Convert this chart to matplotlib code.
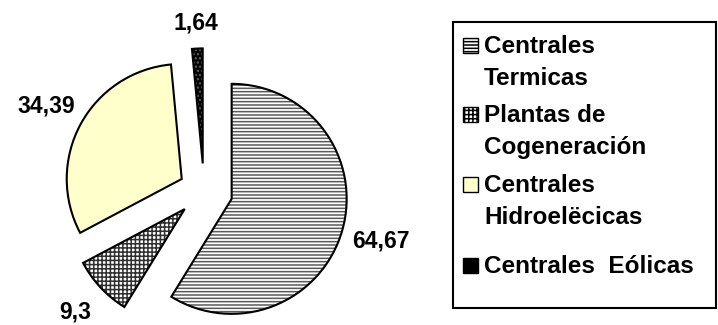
import matplotlib
matplotlib.use("Agg")
import matplotlib.pyplot as plt
import matplotlib.patches as mp
import numpy as np

# data
sources = ["Centrales\nTermicas", "Plantas de\nCogeneración",
           "Centrales\nHidroelëcicas", "Centrales  Eólicas"]
shares = [64.67, 9.3, 34.39, 1.64]
value_labels = [str(v).replace(".", ",") for v in shares]

# styling
faces = ["white", "white", "#FFFFCC", "black"]
hatches = ["-----", "++++", "", "...."]
hatch_cols = ["#5a5a5a", "#303030", "black", "#606060"]
explode = [0.25, 0.23, 0.22, 0.24]
label_dist = [1.35, 1.31, 1.34, 1.22]

plt.rcParams["font.family"] = ["Liberation Sans", "DejaVu Sans"]
plt.rcParams["font.weight"] = "bold"
plt.rcParams["hatch.linewidth"] = 1.1

W, H = 718, 325
fig = plt.figure(figsize=(W / 100, H / 100), dpi=100)

PX = 115.0           # pie radius in pixels
cx, cy = 204, 134    # pie centre in pixels (from bottom-left)
axw = 430
ax = fig.add_axes([0, 0, axw / W, 1])

# hatched fill layer
wedges, texts = ax.pie(shares, colors=faces, hatch=hatches, explode=explode,
                       startangle=90, counterclock=False,
                       labels=value_labels, labeldistance=1.3,
                       wedgeprops=dict(linewidth=0),
                       textprops=dict(fontsize=16.5, fontweight="bold"))
for w, hc in zip(wedges, hatch_cols):
    w.set_edgecolor(hc)
    w.set_linewidth(0)

# outline layer
ax.pie(shares, explode=explode, startangle=90, counterclock=False,
       wedgeprops=dict(fill=False, edgecolor="black", linewidth=1.5))

# value labels along each wedge's middle ray
for w, t, d, e in zip(wedges, texts, label_dist, explode):
    th = np.deg2rad((w.theta1 + w.theta2) / 2)
    t.set_position(((e + d) * np.cos(th), (e + d) * np.sin(th)))
    t.set_ha("center")
    t.set_va("center")

ax.set_aspect("auto")
ax.set_xlim(-cx / PX, (axw - cx) / PX)
ax.set_ylim(-cy / PX, (H - cy) / PX)
ax.axis("off")

# legend, laid out in pixel coordinates
lg = fig.add_axes([0, 0, 1, 1], zorder=5)
lg.set_xlim(0, W)
lg.set_ylim(H, 0)
lg.axis("off")
lg.add_patch(mp.Rectangle((453, 22), 716 - 453, 308 - 22, fill=False,
                          edgecolor="black", linewidth=1.5))
baselines = [53, 122, 192, 273]
step = 32
for lab, f, h, b in zip(sources, faces, hatches, baselines):
    lg.add_patch(mp.Rectangle((463, b - 15), 15, 15, facecolor=f,
                              edgecolor="black", hatch=h, linewidth=1.0))
    for j, line in enumerate(lab.split("\n")):
        lg.text(484, b + j * step, line, fontsize=17.5, fontweight="bold",
                va="baseline", ha="left")

fig.savefig("out.png", dpi=100)
